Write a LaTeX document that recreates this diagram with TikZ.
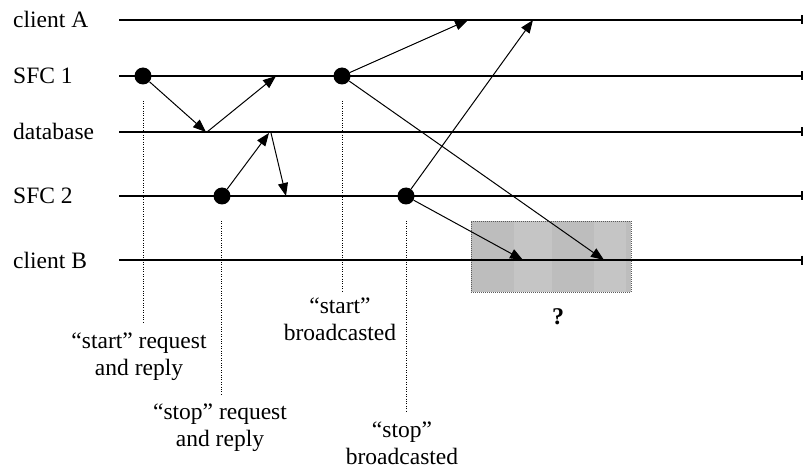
\documentclass[tikz,border=0pt]{standalone}
\usepackage{fontspec}
\setmainfont{Liberation Serif}
\usetikzlibrary{arrows.meta}
\begin{document}
\begin{tikzpicture}[x=1pt,y=-1pt,
 tl/.style={line width=1.2pt,-{Bar[width=9pt,line width=1.6pt]}},
 arr/.style={line width=1pt,-{Triangle[length=13pt,width=10pt]}},
 dotc/.style={circle,fill=black,inner sep=0pt,minimum size=17pt},
 guide/.style={line width=0.8pt,dash pattern=on 1pt off 1.4pt},
 lab/.style={font=\fontsize{23.5}{27}\selectfont,inner sep=0pt},
 captext/.style={font=\fontsize{23.5}{27}\selectfont,inner sep=0pt,align=center},
]
\useasboundingbox (0,0) rectangle (804,468);
% grey region
\fill[fill={rgb,255:red,189;green,189;blue,189}] (471,221) rectangle (631,292);
\fill[fill={rgb,255:red,197;green,197;blue,197}] (514,221) rectangle (552,292);
\fill[fill={rgb,255:red,197;green,197;blue,197}] (594,221) rectangle (626,292);
\node[draw={rgb,255:red,90;green,90;blue,90},line width=0.8pt,dash pattern=on 1pt off 1pt,
      inner sep=0pt,minimum width=160pt,minimum height=71pt] (box) at (551,256.5) {};
% time lines
\coordinate (aL) at (119,20);  \coordinate (aR) at (803,20);
\coordinate (sL) at (119,76);  \coordinate (sR) at (803,76);
\coordinate (dL) at (119,132); \coordinate (dR) at (803,132);
\coordinate (tL) at (119,196); \coordinate (tR) at (803,196);
\coordinate (bL) at (119,260); \coordinate (bR) at (803,260);
\draw[tl] (aL) -- (aR);
\draw[tl] (sL) -- (sR);
\draw[tl] (dL) -- (dR);
\draw[tl] (tL) -- (tR);
\draw[tl] (bL) -- (bR);
% row labels
\node[lab,anchor=base west] (lA) at (13,28) {client A};
\node[lab,anchor=base west] (l1) at (13,84) {SFC 1};
\node[lab,anchor=base west] (ld) at (13,140) {database};
\node[lab,anchor=base west] (l2) at (13,204) {SFC 2};
\node[lab,anchor=base west] (lB) at (13,268) {client B};
% dotted guides
\coordinate (g1t) at (143,101); \coordinate (g1b) at (143,323);
\coordinate (g2t) at (221,221); \coordinate (g2b) at (221,395);
\coordinate (g3t) at (342,101); \coordinate (g3b) at (342,292);
\coordinate (g4t) at (406,221); \coordinate (g4b) at (406,411);
\draw[guide] (g1t) -- (g1b);
\draw[guide] (g2t) -- (g2b);
\draw[guide] (g3t) -- (g3b);
\draw[guide] (g4t) -- (g4b);
% events
\node[dotc] (e1) at (143,76) {};
\node[dotc] (e2) at (222,196) {};
\node[dotc] (e3) at (342,76) {};
\node[dotc] (e4) at (406,196) {};
% messages
\coordinate (m1) at (206,132);
\coordinate (m1s) at (207,132);
\coordinate (m2) at (276,76);
\coordinate (m3) at (269,133);
\coordinate (m3s) at (271,133);
\coordinate (m4) at (286,196);
\coordinate (ca1) at (468,20);
\coordinate (ca2) at (533,20);
\coordinate (cb1) at (523,260);
\coordinate (cb2) at (604,260);
\draw[arr] (e1) -- (m1);
\draw[arr] (m1s) -- (m2);
\draw[arr] (e2) -- (m3);
\draw[arr] (m3s) -- (m4);
\draw[arr] (e3) -- (ca1);
\draw[arr] (e3) -- (cb2);
\draw[arr] (e4) -- (ca2);
\draw[arr] (e4) -- (cb1);
% captions (base anchor = baseline of last line)
\node[captext,anchor=base] (c1) at (139,375) {“start” request\\and reply};
\node[captext,anchor=base] (c2) at (340,340) {“start”\\broadcasted};
\node[captext,anchor=base] (c3) at (220,446) {“stop” request\\and reply};
\node[captext,anchor=base] (c4) at (402,464) {“stop”\\broadcasted};
\node[font=\fontsize{24}{28}\selectfont\bfseries,inner sep=0pt] (q) at (558,317) {?};
\end{tikzpicture}
\end{document}
